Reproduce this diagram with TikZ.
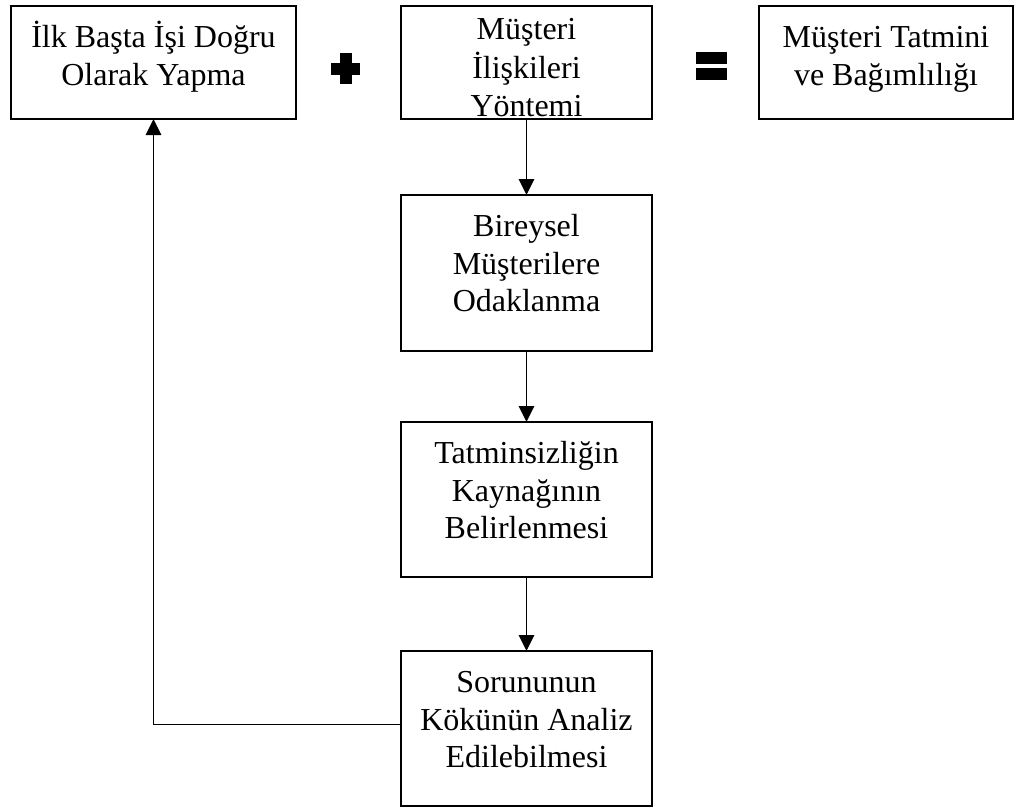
\documentclass[tikz,border=0pt]{standalone}
\usepackage{fontspec}
\setmainfont{Liberation Serif}
\usetikzlibrary{arrows.meta}

% box contents: width, height, top padding, lines
\newcommand{\flowcontent}[4]{%
  \parbox[c][#2][t]{#1}{\centering\fontsize{24pt}{28.2pt}\selectfont
    \vspace*{#3}\strut #4\par}}

\tikzset{
  flowbox/.style={draw, line width=1.4pt, inner sep=0pt, outer sep=0pt},
  link/.style={line width=1.4pt, -{Triangle[width=11.5pt,length=12pt]}},
  glyph/.style={fill=black}
}

\begin{document}
\begin{tikzpicture}[x=0.75pt, y=-0.75pt]
  \useasboundingbox (0,0) rectangle (1016,810);

  % top row
  \node[flowbox] (b1) at (153.5,62.5)
    {\flowcontent{213.75pt}{84.75pt}{11.5pt}{İlk Başta İşi Doğru\\Olarak Yapma}};
  \node[flowbox] (b2) at (526.5,62.5)
    {\flowcontent{188.25pt}{84.75pt}{5.5pt}{Müşteri\\İlişkileri\\Yöntemi}};
  \node[flowbox] (b3) at (886,62.5)
    {\flowcontent{190.5pt}{84.75pt}{11.5pt}{Müşteri Tatmini\\ve Bağımlılığı}};

  % plus sign
  \fill[glyph] (331,62.5) rectangle (360,74.5);
  \fill[glyph] (339.5,53) rectangle (351.5,84);
  % equals sign
  \fill[glyph] (696,52) rectangle (727,64);
  \fill[glyph] (696,68) rectangle (727,80);

  % vertical chain
  \node[flowbox] (b4) at (526.5,273)
    {\flowcontent{188.25pt}{117pt}{11.5pt}{Bireysel\\Müşterilere\\Odaklanma}};
  \node[flowbox] (b5) at (526.5,499.5)
    {\flowcontent{188.25pt}{116.25pt}{11.5pt}{Tatminsizliğin\\Kaynağının\\Belirlenmesi}};
  \node[flowbox] (b6) at (526.5,728.5)
    {\flowcontent{188.25pt}{116.25pt}{11.5pt}{Sorununun\\Kökünün Analiz\\Edilebilmesi}};

  % connectors
  \draw[link] (b2.south) -- (b4.north);
  \draw[link] (b4.south) -- (b5.north);
  \draw[link] (b5.south) -- (b6.north);
  \draw[link] ([yshift=3pt]b6.west) -| (b1.south);
\end{tikzpicture}
\end{document}
